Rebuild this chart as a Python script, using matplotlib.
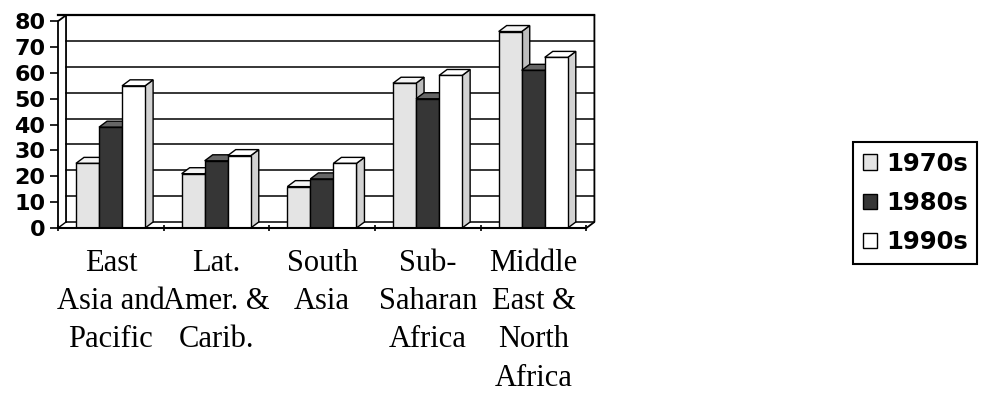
import matplotlib
matplotlib.use("Agg")
import matplotlib.pyplot as plt
from matplotlib.patches import Polygon, Patch

# data
regions = ["East\nAsia and\nPacific", "Lat.\nAmer. &\nCarib.", "South\nAsia",
           "Sub-\nSaharan\nAfrica", "Middle\nEast &\nNorth\nAfrica"]
decades = ["1970s", "1980s", "1990s"]
v1970 = [25, 21, 16, 56, 76]
v1980 = [39, 26, 19, 50, 61]
v1990 = [55, 28, 25, 59, 66]
yticks = [0, 10, 20, 30, 40, 50, 60, 70, 80]

series = [v1970, v1980, v1990]
front_col = ["#e4e4e4", "#363636", "#ffffff"]
top_col = ["#f4f4f4", "#666666", "#ffffff"]
side_col = ["#bdbdbd", "#222222", "#d2d2d2"]

fig = plt.figure(figsize=(9.87, 3.94), dpi=100)
ax = fig.add_axes([58/987, (394-228)/394, 540/987, 213/394])
ax.set_xlim(0, 5.11)
ax.set_ylim(0, 82.4)

dx, dy = 0.076, 2.32   # fake depth for the 3d look
n = len(regions)
top = yticks[-1]

# back wall gridlines
for v in yticks:
    ax.plot([dx, n + dx], [v + dy, v + dy], color="black", lw=1.1, zorder=1)
# walls and floor outline
ax.plot([0, 0, dx, dx], [0, top, top + dy, dy], color="black", lw=1.3, zorder=1, clip_on=False)
ax.plot([0, dx], [0, dy], color="black", lw=1.0, zorder=1)
ax.plot([0, n + dx], [top + dy, top + dy], color="black", lw=1.6, zorder=1, clip_on=False)
ax.plot([n + dx, n + dx, n], [top + dy, dy, 0], color="black", lw=1.3, zorder=1, clip_on=False)
ax.plot([0, n], [0, 0], color="black", lw=1.5, zorder=100, clip_on=False)

w = 0.218
off = 0.17
z = 2
for i in range(n):
    for j, vals in enumerate(series):
        x0 = i + off + j * w
        h = vals[i]
        ax.bar(x0, h, width=w, align="edge", color=front_col[j],
               edgecolor="black", linewidth=1.0, zorder=z + 2)
        ax.add_patch(Polygon([(x0, h), (x0 + dx, h + dy), (x0 + w + dx, h + dy), (x0 + w, h)],
                             closed=True, facecolor=top_col[j], edgecolor="black",
                             linewidth=1.0, zorder=z + 1))
        ax.add_patch(Polygon([(x0 + w, 0), (x0 + w + dx, dy), (x0 + w + dx, h + dy), (x0 + w, h)],
                             closed=True, facecolor=side_col[j], edgecolor="black",
                             linewidth=1.0, zorder=z))
        z += 3

for s in ax.spines.values():
    s.set_visible(False)

ax.set_yticks(yticks)
ax.set_yticklabels([str(t) for t in yticks], fontfamily="DejaVu Sans",
                   fontweight="bold", fontsize=16)
ax.tick_params(axis="y", length=6, width=1.2, pad=3)

ax.set_xticks(range(n + 1))
ax.set_xticklabels([])
ax.tick_params(axis="x", which="major", length=5, width=1.2, direction="inout")
ax.set_xticks([i + 0.5 for i in range(n)], minor=True)
ax.set_xticklabels(regions, minor=True, fontfamily="Liberation Serif", fontsize=22,
                   linespacing=1.42)
ax.tick_params(axis="x", which="minor", length=0, pad=15)

handles = [Patch(facecolor=front_col[k], edgecolor="black", linewidth=1.0) for k in range(3)]
fig.legend(handles, decades, loc="upper left", bbox_to_anchor=(853/987, (394-142)/394),
           frameon=True, fancybox=False, edgecolor="black", framealpha=1,
           prop={"family": "DejaVu Sans", "weight": "bold", "size": 17.5},
           handlelength=0.6, handleheight=0.6, handletextpad=0.35,
           labelspacing=0.62, borderpad=0.4, borderaxespad=0)
fig.legends[0].get_frame().set_linewidth(1.5)

fig.savefig("out.png", dpi=100)
